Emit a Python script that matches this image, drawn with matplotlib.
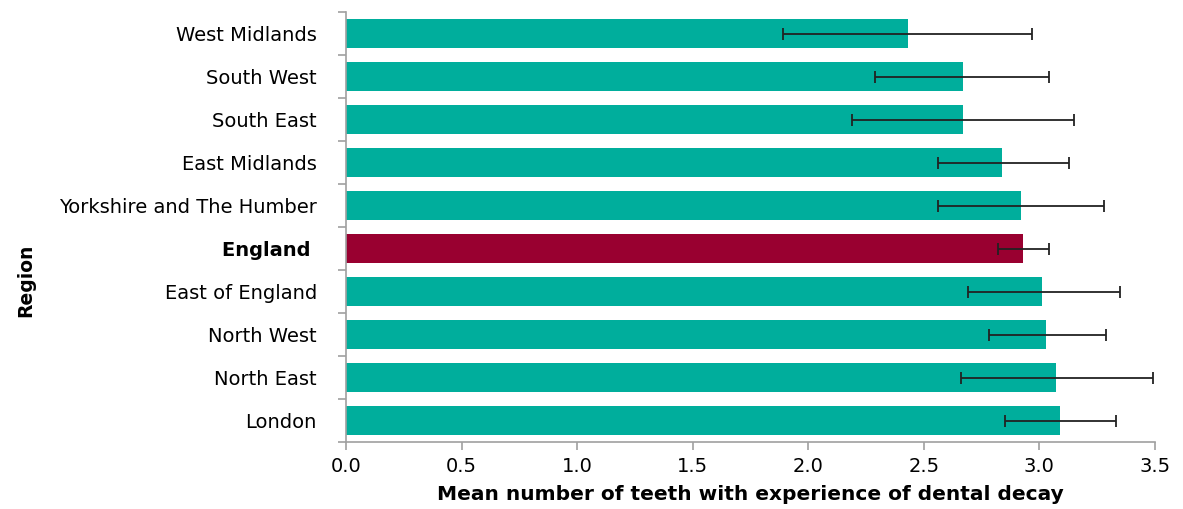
import numpy as np
import matplotlib.pyplot as plt

plt.rcParams["font.family"] = ["DejaVu Sans"]

regions = ["West Midlands", "South West", "South East", "East Midlands",
           "Yorkshire and The Humber", "England", "East of England",
           "North West", "North East", "London"]
means = [2.43, 2.67, 2.67, 2.84, 2.92, 2.93, 3.01, 3.03, 3.07, 3.09]
lower = [1.89, 2.29, 2.19, 2.56, 2.56, 2.82, 2.69, 2.78, 2.66, 2.85]
upper = [2.97, 3.04, 3.15, 3.13, 3.28, 3.04, 3.35, 3.29, 3.49, 3.33]

teal = "#00AE9C"
maroon = "#990030"
colors = [maroon if r == "England" else teal for r in regions]

fig = plt.figure(figsize=(11.83, 5.09), dpi=100)
ax = fig.add_axes([0.2925, 0.1316, 0.6838, 0.8448])

y = np.arange(len(regions))
means = np.array(means)
err = [means - np.array(lower), np.array(upper) - means]
ax.barh(y, means, height=0.66, color=colors, zorder=2)
ax.errorbar(means, y, xerr=err, fmt="none", ecolor="#222222",
            elinewidth=1.3, capsize=4, capthick=1.3, zorder=3)

ax.set_ylim(len(regions) - 0.5, -0.5)
ax.set_xlim(0, 3.5)
ax.set_xticks(np.arange(0, 3.51, 0.5))
ax.set_xticklabels([f"{v:.1f}" for v in np.arange(0, 3.51, 0.5)], fontsize=14)

ax.set_yticks(y)
ax.set_yticklabels([r + " " if r == "England" else r for r in regions], fontsize=14)
for lbl in ax.get_yticklabels():
    if lbl.get_text().strip() == "England":
        lbl.set_fontweight("bold")
ax.set_yticks(np.arange(-0.5, len(regions), 1), minor=True)
ax.tick_params(axis="y", which="major", length=0, pad=21)
ax.tick_params(axis="y", which="minor", length=6, color="#A0A0A0", width=1.2)
ax.tick_params(axis="x", length=6, color="#A0A0A0", width=1.2, pad=5)

for side in ["top", "right"]:
    ax.spines[side].set_visible(False)
for side in ["left", "bottom"]:
    ax.spines[side].set_color("#A0A0A0")
    ax.spines[side].set_linewidth(1.2)

ax.set_xlabel("Mean number of teeth with experience of dental decay",
              fontsize=14.5, fontweight="bold", labelpad=6)
ax.set_ylabel("Region", fontsize=13.5, fontweight="bold")
ax.yaxis.set_label_coords(-0.384, 0.377)

fig.savefig("out.png", dpi=100)
